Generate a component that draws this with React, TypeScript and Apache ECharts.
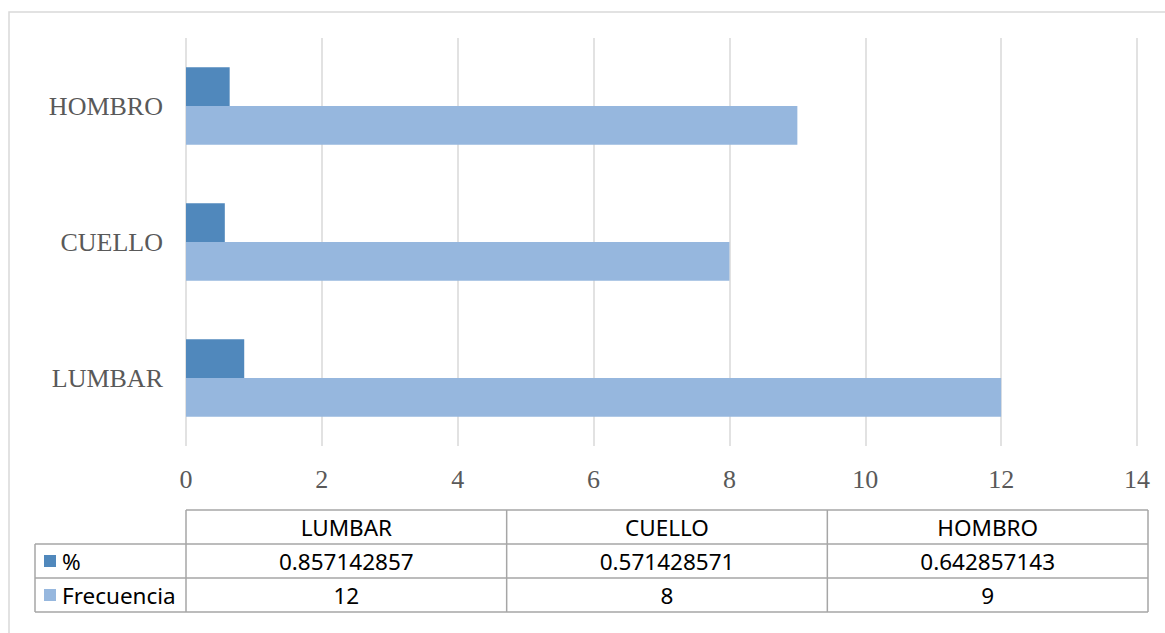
import React, { useEffect, useRef } from "react";
import * as echarts from "echarts";

const categories = ["LUMBAR", "CUELLO", "HOMBRO"];
const pctValues = [0.857142857, 0.571428571, 0.642857143];
const freqValues = [12, 8, 9];
const seriesNames = ["%", "Frecuencia"];
const xTicks = [0, 2, 4, 6, 8, 10, 12, 14];

const DARK = "#5088bc";
const LIGHT = "#96b7de";

export default function App() {
  const ref = useRef<HTMLDivElement>(null);
  useEffect(() => {
    const chart = echarts.init(ref.current!, null, { renderer: "svg" });

    const tx0 = 35, tx1 = 186, colW = (1148 - 186) / 3;
    const rows = [510, 544, 578, 612];
    const lineColor = "#a6a6a6";
    const g: any[] = [];
    g.push({ type: "rect", shape: { x: 9, y: 12, width: 1200, height: 700 }, style: { fill: "none", stroke: "#d9d9d9", lineWidth: 1.5 }, silent: true });
    g.push({ type: "line", shape: { x1: tx1, y1: rows[0], x2: 1148, y2: rows[0] }, style: { stroke: lineColor, lineWidth: 1.5 } });
    for (let i = 1; i < 4; i++) {
      g.push({ type: "line", shape: { x1: tx0, y1: rows[i], x2: 1148, y2: rows[i] }, style: { stroke: lineColor, lineWidth: 1.5 } });
    }
    g.push({ type: "line", shape: { x1: tx0, y1: rows[1], x2: tx0, y2: rows[3] }, style: { stroke: lineColor, lineWidth: 1.5 } });
    for (let c = 0; c <= 3; c++) {
      const x = tx1 + c * colW;
      g.push({ type: "line", shape: { x1: x, y1: rows[0], x2: x, y2: rows[3] }, style: { stroke: lineColor, lineWidth: 1.5 } });
    }
    const font = { fontFamily: "Noto Sans", fontSize: 22.5, fill: "#000" };
    categories.forEach((cat, c) => {
      const cx = tx1 + (c + 0.5) * colW;
      g.push({ type: "text", x: cx, y: (rows[0] + rows[1]) / 2, style: { ...font, text: cat, align: "center", verticalAlign: "middle" } });
      g.push({ type: "text", x: cx, y: (rows[1] + rows[2]) / 2, style: { ...font, text: pctValues[c].toFixed(9), align: "center", verticalAlign: "middle" } });
      g.push({ type: "text", x: cx, y: (rows[2] + rows[3]) / 2, style: { ...font, text: String(freqValues[c]), align: "center", verticalAlign: "middle" } });
    });
    const legendColors = [DARK, LIGHT];
    seriesNames.forEach((n, i) => {
      const cy = (rows[i + 1] + rows[i + 2]) / 2;
      g.push({ type: "rect", shape: { x: 44, y: cy - 6, width: 12, height: 12 }, style: { fill: legendColors[i] } });
      g.push({ type: "text", x: 62, y: cy, style: { ...font, text: n, align: "left", verticalAlign: "middle" } });
    });

    chart.setOption({
      animation: false,
      backgroundColor: "#fff",
      grid: { left: 186, right: 28, top: 38, bottom: 187, containLabel: false },
      xAxis: {
        type: "value",
        min: 0,
        max: 14,
        interval: 2,
        axisLine: { show: false },
        axisTick: { show: false },
        splitLine: { show: true, lineStyle: { color: "#d9d9d9", width: 1.5 } },
        axisLabel: { margin: 20, color: "#595959", fontFamily: "Liberation Serif", fontSize: 26, formatter: (v: number) => (xTicks.includes(v) ? String(v) : "") },
      },
      yAxis: {
        type: "category",
        data: categories,
        axisLine: { show: false },
        axisTick: { show: false },
        splitLine: { show: false },
        axisLabel: { margin: 23, color: "#595959", fontFamily: "Liberation Serif", fontSize: 26 },
      },
      series: [
        { name: seriesNames[0], type: "bar", data: pctValues, itemStyle: { color: DARK }, barGap: "0%", barCategoryGap: "43%" },
        { name: seriesNames[1], type: "bar", data: freqValues, itemStyle: { color: LIGHT }, barGap: "0%", barCategoryGap: "43%" },
      ],
      graphic: g,
    });
    return () => chart.dispose();
  }, []);
  return <div ref={ref} style={{ position: "absolute", left: 0, top: 0, width: 1165, height: 633 }} />;
}
